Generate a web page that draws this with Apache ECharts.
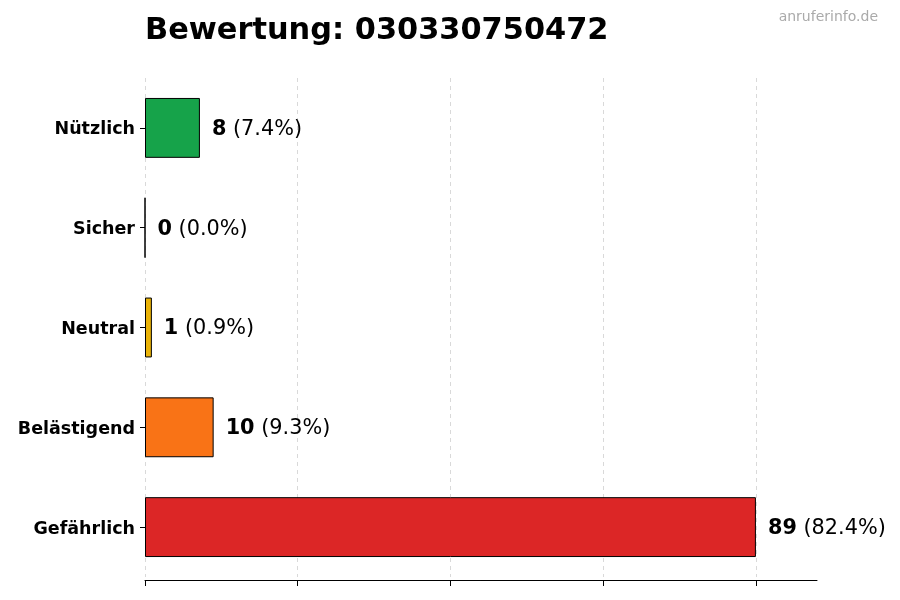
<!DOCTYPE html>
<html>
<head>
<meta charset="utf-8">
<script src="https://cdn.jsdelivr.net/npm/echarts@6/dist/echarts.min.js"></script>
<style>
html,body{margin:0;padding:0;background:#fff;}
#chart{width:900px;height:600px;}
</style>
</head>
<body>
<div id="chart"></div>
<script>
const categories = ['Nützlich', 'Sicher', 'Neutral', 'Belästigend', 'Gefährlich'];
const values = [8, 0, 1, 10, 89];
const colors = ['#16a34a', '#64748b', '#eab308', '#f97316', '#dc2626'];
const xTicks = [0, 22.25, 44.5, 66.75, 89];
const xMax = 97.9;
const titleText = 'Bewertung: 030330750472';
const watermark = 'anruferinfo.de';

const total = values.reduce((a, b) => a + b, 0);
const font = '"DejaVu Sans", sans-serif';

const chart = echarts.init(document.getElementById('chart'), null, {renderer: 'canvas'});
chart.setOption({
  animation: false,
  backgroundColor: '#fff',
  title: [{
    text: titleText,
    left: 140, top: 11,
    textStyle: {fontFamily: font, fontWeight: 'bold', fontSize: 30.4, color: '#000'}
  }, {
    text: watermark,
    right: 17, top: 5,
    textStyle: {fontFamily: font, fontWeight: 'normal', fontSize: 14, color: '#aaaaaa'}
  }],
  grid: {left: 145, right: 83, top: 78, bottom: 23, containLabel: false},
  xAxis: {
    type: 'value', min: 0, max: xMax,
    offset: 3,
    axisLine: {show: true, lineStyle: {color: '#000', width: 1}},
    axisTick: {show: true, customValues: xTicks, length: 6, lineStyle: {color: '#000'}},
    axisLabel: {show: false},
    interval: 22.25,
    splitLine: {show: true, lineStyle: {type: [4, 4], color: ['#d9d9d9','#d9d9d9','#d9d9d9','#d9d9d9','#d9d9d9','rgba(0,0,0,0)'], width: 1}}
  },
  yAxis: {
    type: 'category', data: categories, inverse: true,
    axisLine: {show: false},
    axisTick: {show: true, alignWithLabel: true, length: 5, lineStyle: {color: '#000'}},
    axisLabel: {
      margin: 10,
      formatter: v => '{a|' + v + '}',
      rich: {a: {fontFamily: font, fontWeight: 'bold', fontSize: 17.5, color: '#000', padding: [4, 0, 0, 0]}}
    }
  },
  series: [{
    type: 'bar',
    barWidth: '60%',
    data: values.map((v, i) => ({value: v, itemStyle: {color: colors[i]}})),
    itemStyle: {borderColor: '#000', borderWidth: 1},
    label: {
      show: true, position: 'right', distance: 12,
      formatter: p => '{b|' + p.value + '}{n| (' + (p.value / total * 100).toFixed(1) + '%)}',
      rich: {
        b: {fontFamily: font, fontWeight: 'bold', fontSize: 20.8, color: '#000', padding: [3, 0, 0, 0]},
        n: {fontFamily: font, fontWeight: 'normal', fontSize: 20.8, color: '#000', padding: [3, 0, 0, 0]}
      }
    }
  }]
});
</script>
</body>
</html>
